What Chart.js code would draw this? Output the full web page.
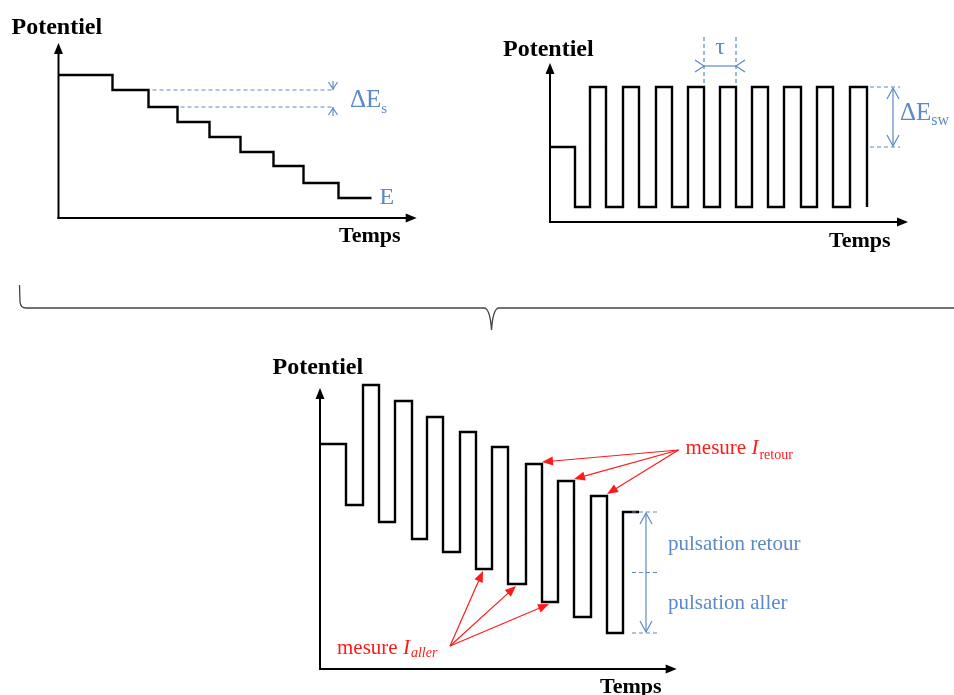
<!DOCTYPE html>
<html><head><meta charset="utf-8">
<script src="https://cdn.jsdelivr.net/npm/chart.js@4/dist/chart.umd.min.js"></script>
<style>
html,body{margin:0;padding:0;background:#fff;}
#wrap{position:relative;width:954px;height:695px;overflow:hidden;background:#fff;}
canvas{position:absolute;left:0;top:0;}
</style></head><body>
<div id="wrap">
<canvas id="c1" width="954" height="695"></canvas>
<canvas id="c2" width="954" height="695"></canvas>
<canvas id="c3" width="954" height="695"></canvas>
</div>
<script>
// ---- data (arbitrary units) ----
const stairTime      = [0, 54, 90, 119, 151, 182, 215, 245, 280, 313];
const stairPotential = [143, 128, 111, 96, 81, 66, 52, 35, 20, 20];

const pulseTime      = [0, 25, 40, 56, 73, 89, 106, 122, 138, 154, 170, 186, 202, 218, 234, 251, 267, 283, 300, 317];
const pulsePotential = [75, 15, 135, 15, 135, 15, 135, 15, 135, 15, 135, 15, 135, 15, 135, 15, 135, 15, 135, 15];

const swvTime        = [0, 26, 43, 59, 75, 92, 107, 123, 140, 156, 172, 188, 206, 222, 238, 254, 271, 287, 303, 319];
const swvPotential   = [225, 164, 284, 147, 268, 130, 252, 117, 237, 100, 222, 85, 205, 67, 188, 52, 173, 36, 157, 157];

const yAxisLabel = 'Potentiel';
const xAxisLabel = 'Temps';

const BLUE = '#5b8ac6';
const RED = '#ff1a1a';
const SERIF = '"Liberation Serif", "Times New Roman", serif';

// ---- helpers ----
const X = (c, v) => c.scales.x.getPixelForValue(v);
const Y = (c, v) => c.scales.y.getPixelForValue(v);

function line(ctx, pts, color, w, dash) {
  ctx.save();
  ctx.strokeStyle = color; ctx.lineWidth = w;
  ctx.setLineDash(dash || []);
  ctx.beginPath();
  ctx.moveTo(pts[0][0], pts[0][1]);
  for (let i = 1; i < pts.length; i++) ctx.lineTo(pts[i][0], pts[i][1]);
  ctx.stroke();
  ctx.restore();
}
function filledHead(ctx, fx, fy, tx, ty, len, half, color) {
  const a = Math.atan2(ty - fy, tx - fx);
  const bx = tx - Math.cos(a) * len, by = ty - Math.sin(a) * len;
  ctx.save();
  ctx.fillStyle = color;
  ctx.beginPath();
  ctx.moveTo(tx, ty);
  ctx.lineTo(bx + Math.sin(a) * half, by - Math.cos(a) * half);
  ctx.lineTo(bx - Math.sin(a) * half, by + Math.cos(a) * half);
  ctx.closePath();
  ctx.fill();
  ctx.restore();
}
function arrow(ctx, fx, fy, tx, ty, color, w, len, half) {
  const a = Math.atan2(ty - fy, tx - fx);
  line(ctx, [[fx, fy], [tx - Math.cos(a) * len * 0.8, ty - Math.sin(a) * len * 0.8]], color, w);
  filledHead(ctx, fx, fy, tx, ty, len, half, color);
}
function openHead(ctx, tx, ty, dx, dy, len, half, color, w) {
  const bx = tx - dx * len, by = ty - dy * len;
  line(ctx, [[bx - dy * half, by + dx * half], [tx, ty], [bx + dy * half, by - dx * half]], color, w);
}
function text(ctx, s, x, y, font, color, align) {
  ctx.save();
  ctx.font = font; ctx.fillStyle = color;
  ctx.textAlign = align || 'left'; ctx.textBaseline = 'alphabetic';
  ctx.fillText(s, x, y);
  const w = ctx.measureText(s).width;
  ctx.restore();
  return w;
}
function axes(c) {
  const ctx = c.ctx, a = c.chartArea;
  line(ctx, [[a.left, a.bottom + 1], [a.left, a.top + 8]], '#000', 2);
  filledHead(ctx, a.left, a.bottom, a.left, a.top, 11, 4.5, '#000');
  line(ctx, [[a.left - 1, a.bottom], [a.right - 8, a.bottom]], '#000', 2);
  filledHead(ctx, a.left, a.bottom, a.right, a.bottom, 11, 4.5, '#000');
}

function makeChart(id, times, values, area, ranges, plugin) {
  return new Chart(document.getElementById(id), {
    type: 'line',
    data: {
      datasets: [{
        data: times.map((t, i) => ({x: t, y: values[i]})),
        borderColor: '#000', borderWidth: 2.4, pointRadius: 0,
        stepped: 'before', fill: false, clip: false,
        borderJoinStyle: 'miter', borderCapStyle: 'butt', tension: 0
      }]
    },
    options: {
      responsive: false, animation: false, events: [],
      layout: {padding: {left: area[0], top: area[1], right: 954 - area[2], bottom: 695 - area[3]}},
      plugins: {legend: {display: false}, tooltip: {enabled: false}, title: {display: false}},
      scales: {
        x: {type: 'linear', display: false, min: 0, max: ranges[0]},
        y: {type: 'linear', display: false, min: 0, max: ranges[1]}
      }
    },
    plugins: [plugin]
  });
}

// ---- chart 1 : staircase ----
makeChart('c1', stairTime, stairPotential, [58.5, 43, 416.7, 218], [358.2, 175], {
  id: 'p1',
  beforeDatasetsDraw(c) {
    const ctx = c.ctx, a = c.chartArea;
    const xs = X(c, stairTime[2]) + 4, xe = a.left + 274.5;
    [stairPotential[1], stairPotential[2]].forEach(v => line(ctx, [[xs, Y(c, v)], [xe, Y(c, v)]], BLUE, 1.2, [4, 3]));
  },
  afterDraw(c) {
    const ctx = c.ctx, a = c.chartArea;
    axes(c);
    const xm = a.left + 274.5, yt = Y(c, stairPotential[1]), yb = Y(c, stairPotential[2]);
    line(ctx, [[xm, yt - 9], [xm, yt]], BLUE, 1.2);
    openHead(ctx, xm, yt - 1, 0, 1, 7, 4.5, BLUE, 1.2);
    line(ctx, [[xm, yb], [xm, yb + 9]], BLUE, 1.2);
    openHead(ctx, xm, yb + 1, 0, -1, 7, 4.5, BLUE, 1.2);
    const w = text(ctx, 'ΔE', 350, 107, '25px ' + SERIF, BLUE);
    text(ctx, 's', 350 + w, 113, '15px ' + SERIF, BLUE);
    text(ctx, 'E', X(c, stairTime[9]) + 8, Y(c, stairPotential[9]) + 6, '24px ' + SERIF, BLUE);
    text(ctx, yAxisLabel, 11.5, 33.5, 'bold 24px ' + SERIF, '#000');
    text(ctx, xAxisLabel, 339, 241.5, 'bold 22px ' + SERIF, '#000');
  }
});

// ---- chart 2 : square wave ----
makeChart('c2', pulseTime, pulsePotential, [550, 63, 908, 222], [358, 159], {
  id: 'p2',
  afterDraw(c) {
    const ctx = c.ctx;
    axes(c);
    const x1 = X(c, pulseTime[9]), x2 = X(c, pulseTime[11]), yh = Y(c, pulsePotential[2]);
    line(ctx, [[x1, 37], [x1, yh - 4]], BLUE, 1.2, [4, 3]);
    line(ctx, [[x2, 37], [x2, yh - 4]], BLUE, 1.2, [4, 3]);
    line(ctx, [[x1, 66], [x2, 66]], BLUE, 1.2);
    openHead(ctx, x1, 66, 1, 0, 9, 6, BLUE, 1.2);
    openHead(ctx, x2, 66, -1, 0, 9, 6, BLUE, 1.2);
    text(ctx, 'τ', (x1 + x2) / 2, 54, '24px ' + SERIF, BLUE, 'center');
    const xe = X(c, pulseTime[pulseTime.length - 1]);
    const yTop = Y(c, pulsePotential[2]), yInit = Y(c, pulsePotential[0]);
    line(ctx, [[xe + 3, yTop], [xe + 33, yTop]], BLUE, 1.2, [4, 3]);
    line(ctx, [[xe + 3, yInit], [xe + 33, yInit]], BLUE, 1.2, [4, 3]);
    const xa = xe + 26;
    line(ctx, [[xa, yTop + 1], [xa, yInit - 1]], BLUE, 1.2);
    openHead(ctx, xa, yTop + 1, 0, -1, 11, 6, BLUE, 1.2);
    openHead(ctx, xa, yInit - 1, 0, 1, 11, 6, BLUE, 1.2);
    const w = text(ctx, 'ΔE', 900, 120, '25px ' + SERIF, BLUE);
    text(ctx, 'sw', 900 + w, 125, '16px ' + SERIF, BLUE);
    text(ctx, yAxisLabel, 503, 56, 'bold 24px ' + SERIF, '#000');
    text(ctx, xAxisLabel, 829, 246.5, 'bold 22px ' + SERIF, '#000');
  }
});

// ---- chart 3 : square-wave voltammetry ----
makeChart('c3', swvTime, swvPotential, [320, 388, 676.7, 669], [356.7, 281], {
  id: 'p3',
  afterDraw(c) {
    const ctx = c.ctx;
    axes(c);
    const n = swvTime.length;
    const xe = X(c, swvTime[n - 1]);
    const yHi = Y(c, swvPotential[n - 2]), yLo = Y(c, swvPotential[n - 3]);
    const yMid = (yHi + yLo) / 2;
    [yHi, yMid, yLo].forEach(y => line(ctx, [[xe - 7, y], [xe + 20, y]], BLUE, 1.2, [4, 3]));
    const xa = xe + 7;
    line(ctx, [[xa, yHi + 1], [xa, yLo - 1]], BLUE, 1.2);
    openHead(ctx, xa, yHi + 1, 0, -1, 11, 6, BLUE, 1.2);
    openHead(ctx, xa, yLo - 1, 0, 1, 11, 6, BLUE, 1.2);
    text(ctx, 'pulsation retour', 668, 550, '21px ' + SERIF, BLUE);
    text(ctx, 'pulsation aller', 668, 609, '21px ' + SERIF, BLUE);

    // mesure I_retour : right end of high pulses
    const ox = 678.5, oy = 450;
    [12, 14, 16].forEach(i => arrow(ctx, ox, oy, X(c, swvTime[i + 1]), Y(c, swvPotential[i]) - 2, RED, 1.2, 11, 4.5));
    let w = text(ctx, 'mesure ', 685.5, 453.5, '21px ' + SERIF, RED);
    w += text(ctx, 'I', 685.5 + w, 453.5, 'italic 21px ' + SERIF, RED);
    text(ctx, 'retour', 685.5 + w + 1, 458.5, '14px ' + SERIF, RED);

    // mesure I_aller : middle of low pulses
    const ax = 450, ay = 646;
    [9, 11, 13].forEach(i => arrow(ctx, ax, ay, (X(c, swvTime[i]) + X(c, swvTime[i + 1])) / 2 - 1, Y(c, swvPotential[i]) + 2, RED, 1.2, 11, 4.5));
    w = text(ctx, 'mesure ', 337, 653.5, '21px ' + SERIF, RED);
    w += text(ctx, 'I', 337 + w, 653.5, 'italic 21px ' + SERIF, RED);
    text(ctx, 'aller', 337 + w + 1, 657, 'italic 14px ' + SERIF, RED);

    text(ctx, yAxisLabel, 272.5, 373.5, 'bold 24px ' + SERIF, '#000');
    text(ctx, xAxisLabel, 600, 693, 'bold 22px ' + SERIF, '#000');

    // brace grouping the two upper diagrams
    ctx.save();
    ctx.strokeStyle = '#444'; ctx.lineWidth = 1.3;
    ctx.beginPath();
    ctx.moveTo(19.5, 285);
    ctx.lineTo(20, 302);
    ctx.quadraticCurveTo(20.5, 308, 26, 308);
    ctx.lineTo(484, 308);
    ctx.quadraticCurveTo(490, 308, 491.5, 330);
    ctx.quadraticCurveTo(493, 308, 499, 308);
    ctx.lineTo(954, 308);
    ctx.stroke();
    ctx.restore();
  }
});
</script>
</body></html>
